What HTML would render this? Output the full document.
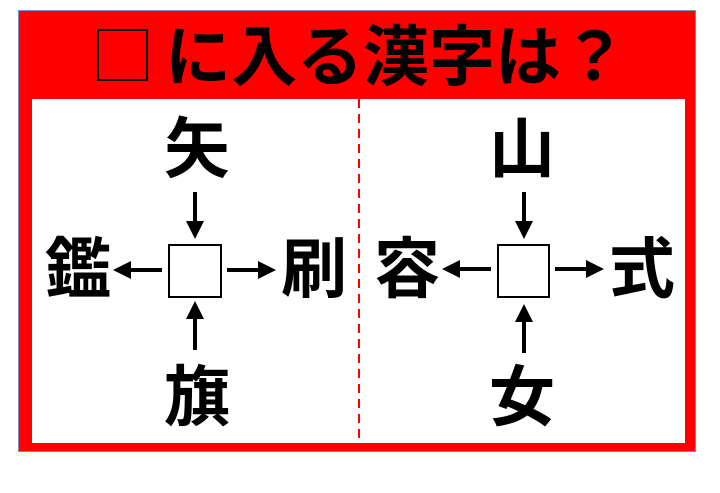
<!DOCTYPE html>
<html><head><meta charset="utf-8"><style>
html,body{margin:0;padding:0;background:#fff;}
svg{display:block;}
text{font-family:"Liberation Sans","Noto Sans CJK JP",sans-serif;font-weight:bold;}
</style></head><body>
<svg width="720" height="493" viewBox="0 0 720 493" xmlns="http://www.w3.org/2000/svg">
<defs><marker id="a" markerWidth="4.5" markerHeight="4.5" refX="2" refY="2.25" orient="auto"><path d="M0,0 L4.5,2.25 L0,4.5 z" fill="#000"/></marker></defs>
<rect x="18.5" y="10.5" width="677" height="441" fill="#ff0000" stroke="#7b8fbf" stroke-width="1"/>
<rect x="32" y="99" width="653" height="344" fill="#fff"/>
<line x1="359" y1="99" x2="359" y2="443" stroke="#ff0000" stroke-width="2" stroke-dasharray="9,6"/>
<rect x="98" y="30" width="49" height="50" fill="none" stroke="#000" stroke-width="2"/>
<text x="396" y="80" font-size="66" text-anchor="middle" fill="#000">に入る漢字は？</text>
<g font-size="66" text-anchor="middle" fill="#000">
<text x="197" y="172">矢</text>
<text x="78" y="292">鑑</text>
<text x="314" y="292">刷</text>
<text x="197" y="420">旗</text>
<text x="522" y="172">山</text>
<text x="407" y="292">容</text>
<text x="642" y="292">式</text>
<text x="522" y="420">女</text>
</g>
<g fill="none" stroke="#000">
<rect x="169" y="245" width="52" height="52" stroke-width="2"/>
<rect x="498" y="245" width="51" height="52" stroke-width="2"/>
</g>
<g stroke="#000" stroke-width="4" marker-end="url(#a)">
<line x1="195" y1="192" x2="195" y2="229"/>
<line x1="162" y1="270" x2="123" y2="270"/>
<line x1="227" y1="270" x2="266" y2="270"/>
<line x1="195" y1="350" x2="195" y2="311"/>
<line x1="524" y1="192" x2="524" y2="229"/>
<line x1="491" y1="269" x2="452" y2="269"/>
<line x1="555" y1="269" x2="594" y2="269"/>
<line x1="524" y1="353" x2="524" y2="314"/>
</g>
</svg>
</body></html>
